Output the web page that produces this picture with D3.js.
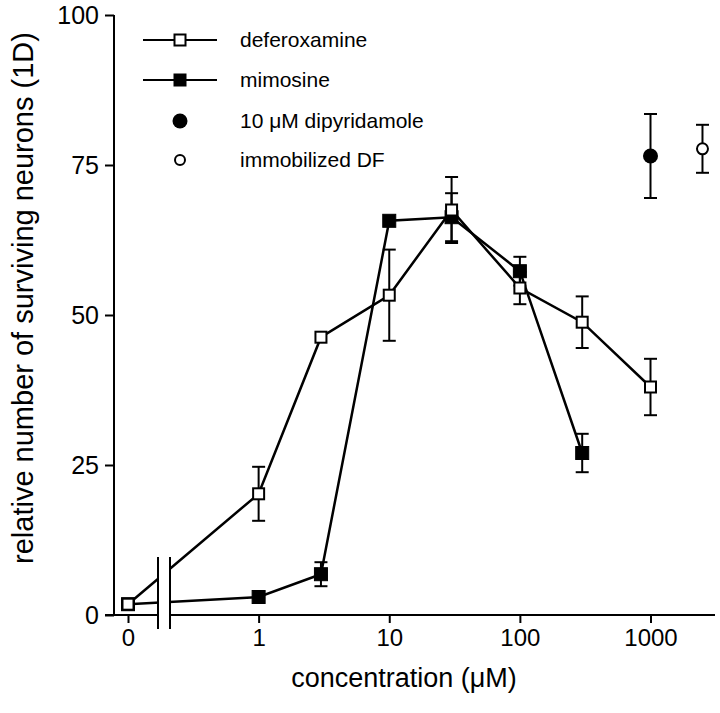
<!DOCTYPE html>
<html>
<head>
<meta charset="utf-8">
<script src="https://cdn.jsdelivr.net/npm/d3@7"></script>
<style>
  html, body { margin: 0; padding: 0; background: #fff; }
  svg { display: block; }
  text { font-family: "Liberation Sans", Arial, Helvetica, sans-serif; fill: #000; }
</style>
</head>
<body>
<svg id="chart" width="720" height="713"></svg>
<script>
// ---- data ----
const defConc = [0, 1, 3, 10, 30, 100, 300, 1000];
const defValues = [1.8, 20.2, 46.3, 53.3, 67.5, 54.5, 48.8, 38.0];
const defErrors = [0, 4.5, 0, 7.6, 5.5, 2.7, 4.3, 4.7];

const mimConc = [0, 1, 3, 10, 30, 100, 300];
const mimValues = [1.8, 3.0, 6.8, 65.7, 66.3, 57.3, 27.0];
const mimErrors = [0, 0, 2.0, 0, 4.0, 2.4, 3.2];

const dipConc = [1000];
const dipValues = [76.5];
const dipErrors = [7.0];

const immConc = [2500];
const immValues = [77.7];
const immErrors = [4.0];

const xTickValues = [0, 1, 10, 100, 1000];
const yTickValues = [0, 25, 50, 75, 100];
const legendLabels = ["deferoxamine", "mimosine", "10 \u03bcM dipyridamole", "immobilized DF"];

// ---- layout ----
const svg = d3.select("#chart");
const zeroStandIn = 0.1; // the "0" concentration is drawn one decade below 1
const xLog = d3.scaleLog().domain([0.1, 1000]).range([128, 650.5]);
const x = v => xLog(v === 0 ? zeroStandIn : v);
const y = d3.scaleLinear().domain([0, 100]).range([615, 15]);

const axisX0 = 105, axisX1 = 715, yAxisX = 114;

// x axis
const gx = svg.append("g").attr("transform", `translate(0,${y(0)})`);
gx.call(d3.axisBottom(xLog)
  .tickValues(xTickValues.map(v => v === 0 ? zeroStandIn : v))
  .tickFormat((d, i) => String(xTickValues[i]))
  .tickSize(8).tickPadding(6));
gx.select(".domain").remove();
gx.append("line").attr("x1", axisX0).attr("x2", axisX1).attr("y1", 0).attr("y2", 0)
  .attr("stroke", "#000").attr("stroke-width", 2);
gx.selectAll(".tick line").attr("stroke", "#000").attr("stroke-width", 2);
gx.selectAll(".tick text").attr("font-size", 24).attr("dy", "0.71em")
  .style("font-family", "'Liberation Sans', Arial, sans-serif");

// y axis
const gy = svg.append("g").attr("transform", `translate(${yAxisX},0)`);
gy.call(d3.axisLeft(y).tickValues(yTickValues).tickSize(9).tickPadding(6));
gy.select(".domain").attr("stroke", "#000").attr("stroke-width", 2)
  .attr("d", `M0,${y(100)}V${y(0)}`);
gy.selectAll(".tick line").attr("stroke", "#000").attr("stroke-width", 2);
gy.selectAll(".tick text").attr("font-size", 25)
  .style("font-family", "'Liberation Sans', Arial, sans-serif");

// axis titles
svg.append("text").attr("x", 404).attr("y", 687).attr("text-anchor", "middle")
  .attr("font-size", 27).text("concentration (\u03bcM)");
svg.append("text").attr("transform", `translate(33,${298}) rotate(-90)`)
  .attr("text-anchor", "middle").attr("font-size", 29)
  .text("relative number of surviving neurons (1D)");

// helpers
function rows(conc, vals, errs) {
  return conc.map((c, i) => ({ c, v: vals[i], e: errs[i] }));
}
const capW = 6.5;
function errorBars(data) {
  const g = svg.append("g").attr("stroke", "#000").attr("stroke-width", 2).attr("fill", "none");
  data.filter(d => d.e > 0).forEach(d => {
    const cx = x(d.c), t = y(d.v + d.e), b = y(d.v - d.e);
    g.append("line").attr("x1", cx).attr("x2", cx).attr("y1", t).attr("y2", b);
    g.append("line").attr("x1", cx - capW).attr("x2", cx + capW).attr("y1", t).attr("y2", t);
    g.append("line").attr("x1", cx - capW).attr("x2", cx + capW).attr("y1", b).attr("y2", b);
  });
}
const line = d3.line().x(d => x(d.c)).y(d => y(d.v));

const defData = rows(defConc, defValues, defErrors);
const mimData = rows(mimConc, mimValues, mimErrors);
const dipData = rows(dipConc, dipValues, dipErrors);
const immData = rows(immConc, immValues, immErrors);

// error bars
[mimData, defData, dipData, immData].forEach(errorBars);

// lines
svg.append("path").datum(mimData).attr("d", line).attr("fill", "none").attr("stroke", "#000").attr("stroke-width", 2.5);
svg.append("path").datum(defData).attr("d", line).attr("fill", "none").attr("stroke", "#000").attr("stroke-width", 2.5);

// axis break (gap between "0" and 1)
svg.append("rect").attr("x", 159).attr("y", 545).attr("width", 10).attr("height", 90).attr("fill", "#fff");
[158, 170].forEach(bx => {
  svg.append("line").attr("x1", bx).attr("x2", bx).attr("y1", 557).attr("y2", 629)
    .attr("stroke", "#000").attr("stroke-width", 2);
});

// markers
const sq = 13;
svg.append("g").selectAll("rect").data(mimData).join("rect")
  .attr("x", d => x(d.c) - sq / 2).attr("y", d => y(d.v) - sq / 2)
  .attr("width", sq).attr("height", sq).attr("fill", "#000").attr("stroke", "#000").attr("stroke-width", 1);
svg.append("g").selectAll("rect").data(defData).join("rect")
  .attr("x", d => x(d.c) - (sq - 2) / 2).attr("y", d => y(d.v) - (sq - 2) / 2)
  .attr("width", sq - 2).attr("height", sq - 2).attr("fill", "#fff").attr("stroke", "#000").attr("stroke-width", 2);
svg.append("g").selectAll("circle").data(dipData).join("circle")
  .attr("cx", d => x(d.c)).attr("cy", d => y(d.v)).attr("r", 7.5).attr("fill", "#000");
svg.append("g").selectAll("circle").data(immData).join("circle")
  .attr("cx", d => x(d.c)).attr("cy", d => y(d.v)).attr("r", 5.5)
  .attr("fill", "#fff").attr("stroke", "#000").attr("stroke-width", 2);

// legend
const lg = svg.append("g");
const rowY = [40, 80, 121, 160];
const symX = 180, lineX0 = 143, lineX1 = 217, textX = 240;
legendLabels.forEach((lab, i) => {
  const yy = rowY[i];
  if (i < 2) {
    lg.append("line").attr("x1", lineX0).attr("x2", lineX1).attr("y1", yy).attr("y2", yy)
      .attr("stroke", "#000").attr("stroke-width", 2);
  }
  if (i === 0) {
    lg.append("rect").attr("x", symX - 5.5).attr("y", yy - 5.5).attr("width", 11).attr("height", 11)
      .attr("fill", "#fff").attr("stroke", "#000").attr("stroke-width", 2);
  } else if (i === 1) {
    lg.append("rect").attr("x", symX - 6.5).attr("y", yy - 6.5).attr("width", 13).attr("height", 13).attr("fill", "#000");
  } else if (i === 2) {
    lg.append("circle").attr("cx", symX).attr("cy", yy).attr("r", 7.5).attr("fill", "#000");
  } else {
    lg.append("circle").attr("cx", symX).attr("cy", yy).attr("r", 5).attr("fill", "#fff")
      .attr("stroke", "#000").attr("stroke-width", 2);
  }
  lg.append("text").attr("x", textX).attr("y", yy + 7).attr("font-size", 21).text(lab);
});
</script>
</body>
</html>
